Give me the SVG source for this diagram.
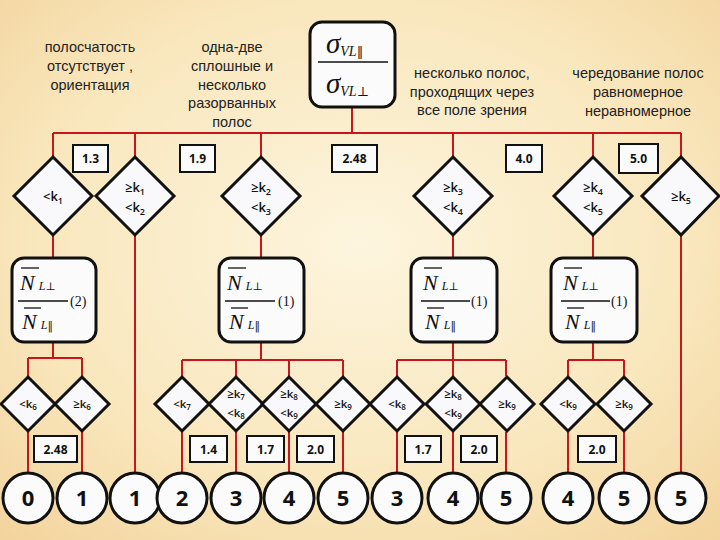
<svg xmlns="http://www.w3.org/2000/svg" width="720" height="540" viewBox="0 0 720 540">
<defs>
<radialGradient id="bg" cx="0.5" cy="0.45" r="0.75">
<stop offset="0" stop-color="#fdf5de"/>
<stop offset="0.6" stop-color="#f9e7bd"/>
<stop offset="1" stop-color="#f3d39c"/>
</radialGradient>
<style>
.ln{stroke:#c8161b;stroke-width:2;fill:none}
.dia{fill:#f9f9fb;stroke:#111;stroke-width:3;stroke-linejoin:miter}
.lab{fill:#fbfbfb;stroke:#111;stroke-width:2}
.rbox{fill:#fbfbfb;stroke:#111;stroke-width:3}
.cir{fill:#fbfbfb;stroke:#111;stroke-width:3}
.cap{font-family:"Liberation Sans",Arial,sans-serif;font-size:14.5px;fill:#222;text-anchor:middle}
.dt{font-family:"Open Sans","Liberation Sans",sans-serif;font-size:13px;font-weight:600;fill:#111;text-anchor:middle}
.st{font-family:"Open Sans","Liberation Sans",sans-serif;font-size:11.5px;font-weight:600;fill:#111;text-anchor:middle}
.lt{font-family:"Open Sans","Liberation Sans",sans-serif;font-size:12px;font-weight:700;fill:#111;text-anchor:middle}
.ct{font-family:"Open Sans","Liberation Sans",sans-serif;font-size:22px;font-weight:700;fill:#111;text-anchor:middle}
.m{font-family:"Liberation Serif","Times New Roman",serif;font-style:italic;fill:#111}
.mn{font-family:"Liberation Serif","Times New Roman",serif;fill:#111}
.up{font-family:"DejaVu Serif","Liberation Serif",serif;font-style:normal;fill:#111}
.bar{stroke:#111;stroke-width:1.3}
</style>
</defs>
<rect width="720" height="540" fill="url(#bg)"/>

<g id="connectors">
<path class="ln" d="M352 107V133M53 133H681M53 133V158M135 133V158M261 133V158M453 133V158M593 133V158M681 133V158"/>
<path class="ln" d="M53 235V258M135 235V473M261 235V258M453 235V258M593 235V258M681 235V473"/>
<path class="ln" d="M53 342V358M28 358H82M28 358V376M82 358V376"/>
<path class="ln" d="M261 342V360M182 360H343M182 360V376M236 360V376M289 360V376M343 360V376"/>
<path class="ln" d="M453 342V360M397 360H506M397 360V376M453 360V376M506 360V376"/>
<path class="ln" d="M593 342V360M568 360H624M568 360V376M624 360V376"/>
<path class="ln" d="M28 432V473M82 432V473M182 432V473M236 432V473M289 432V473M343 432V473M397 432V473M453 432V473M506 432V473M568 432V473M624 432V473"/>
</g>

<g id="captions">
<text class="cap" x="90" y="52">полосчатость</text>
<text class="cap" x="90" y="71">отсутствует ,</text>
<text class="cap" x="90" y="90">ориентация</text>
<text class="cap" x="232" y="52">одна-две</text>
<text class="cap" x="232" y="71">сплошные и</text>
<text class="cap" x="232" y="90">несколько</text>
<text class="cap" x="232" y="108">разорванных</text>
<text class="cap" x="232" y="127">полос</text>
<text class="cap" x="472" y="78">несколько полос,</text>
<text class="cap" x="472" y="97">проходящих через</text>
<text class="cap" x="472" y="115">все поле зрения</text>
<text class="cap" x="638" y="78">чередование полос</text>
<text class="cap" x="638" y="97">равномерное</text>
<text class="cap" x="638" y="116">неравномерное</text>
</g>

<g id="root">
<rect class="rbox" x="310" y="22" width="85" height="85" rx="12"/>
<text class="m" x="326" y="53" font-size="29">σ<tspan font-size="14" dy="3">VL</tspan><tspan class="up" font-size="13">‖</tspan></text>
<line class="bar" x1="318" y1="62" x2="388" y2="62"/>
<text class="m" x="326" y="93" font-size="29">σ<tspan font-size="14" dy="3">VL</tspan><tspan class="up" font-size="13">⊥</tspan></text>
</g>

<g id="thresholds-top">
<rect class="lab" x="73" y="145" width="35" height="27"/><text class="lt" x="90.5" y="163">1.3</text>
<rect class="lab" x="180" y="145" width="35" height="27"/><text class="lt" x="197.5" y="163">1.9</text>
<rect class="lab" x="332" y="145" width="45" height="27"/><text class="lt" x="354.5" y="163">2.48</text>
<rect class="lab" x="506" y="145" width="36" height="27"/><text class="lt" x="524" y="163">4.0</text>
<rect class="lab" x="619" y="144" width="39" height="29"/><text class="lt" x="638.5" y="163">5.0</text>
</g>

<g id="d1"><path class="dia" d="M53 157L92 196L53 235L14 196Z"/><text class="dt" x="53" y="201">&lt;k<tspan font-size="9" dy="3">1</tspan></text></g>
<g id="d2"><path class="dia" d="M135 157L174 196L135 235L96 196Z"/><text class="dt" x="135" y="192">≥k<tspan font-size="9" dy="3">1</tspan></text><text class="dt" x="135" y="212">&lt;k<tspan font-size="9" dy="3">2</tspan></text></g>
<g id="d3"><path class="dia" d="M261 157L300 196L261 235L222 196Z"/><text class="dt" x="261" y="192">≥k<tspan font-size="9" dy="3">2</tspan></text><text class="dt" x="261" y="212">&lt;k<tspan font-size="9" dy="3">3</tspan></text></g>
<g id="d4"><path class="dia" d="M453 157L492 196L453 235L414 196Z"/><text class="dt" x="453" y="192">≥k<tspan font-size="9" dy="3">3</tspan></text><text class="dt" x="453" y="212">&lt;k<tspan font-size="9" dy="3">4</tspan></text></g>
<g id="d5"><path class="dia" d="M593 157L632 196L593 235L554 196Z"/><text class="dt" x="593" y="192">≥k<tspan font-size="9" dy="3">4</tspan></text><text class="dt" x="593" y="212">&lt;k<tspan font-size="9" dy="3">5</tspan></text></g>
<g id="d6"><path class="dia" d="M681 157L719 196L681 235L642 196Z"/><text class="dt" x="681" y="201">≥k<tspan font-size="9" dy="3">5</tspan></text></g>

<g id="f1">
<rect class="rbox" x="12" y="258" width="84" height="84" rx="12"/>
<line class="bar" x1="21" y1="268" x2="39" y2="268"/>
<text class="m" x="20" y="290" font-size="22">N<tspan font-size="12" dx="4">L</tspan><tspan class="up" font-size="11">⊥</tspan></text>
<line class="bar" x1="18" y1="301" x2="68" y2="301"/>
<line class="bar" x1="24" y1="308" x2="41" y2="308"/>
<text class="m" x="22" y="329" font-size="22">N<tspan font-size="12" dx="4">L</tspan><tspan class="up" font-size="11">‖</tspan></text>
<text class="mn" x="70" y="306" font-size="14">(2)</text>
</g>
<g id="f2">
<rect class="rbox" x="219" y="258" width="85" height="84" rx="12"/>
<line class="bar" x1="228" y1="268" x2="246" y2="268"/>
<text class="m" x="227" y="290" font-size="22">N<tspan font-size="12" dx="4">L</tspan><tspan class="up" font-size="11">⊥</tspan></text>
<line class="bar" x1="225" y1="301" x2="275" y2="301"/>
<line class="bar" x1="231" y1="308" x2="248" y2="308"/>
<text class="m" x="229" y="329" font-size="22">N<tspan font-size="12" dx="4">L</tspan><tspan class="up" font-size="11">‖</tspan></text>
<text class="mn" x="278" y="306" font-size="14">(1)</text>
</g>
<g id="f3">
<rect class="rbox" x="411" y="258" width="86" height="84" rx="12"/>
<line class="bar" x1="424" y1="268" x2="442" y2="268"/>
<text class="m" x="423" y="290" font-size="22">N<tspan font-size="12" dx="4">L</tspan><tspan class="up" font-size="11">⊥</tspan></text>
<line class="bar" x1="421" y1="301" x2="470" y2="301"/>
<line class="bar" x1="427" y1="308" x2="444" y2="308"/>
<text class="m" x="425" y="329" font-size="22">N<tspan font-size="12" dx="4">L</tspan><tspan class="up" font-size="11">‖</tspan></text>
<text class="mn" x="471" y="306" font-size="14">(1)</text>
</g>
<g id="f4">
<rect class="rbox" x="551" y="258" width="86" height="84" rx="12"/>
<line class="bar" x1="564" y1="268" x2="582" y2="268"/>
<text class="m" x="563" y="290" font-size="22">N<tspan font-size="12" dx="4">L</tspan><tspan class="up" font-size="11">⊥</tspan></text>
<line class="bar" x1="561" y1="301" x2="610" y2="301"/>
<line class="bar" x1="567" y1="308" x2="584" y2="308"/>
<text class="m" x="565" y="329" font-size="22">N<tspan font-size="12" dx="4">L</tspan><tspan class="up" font-size="11">‖</tspan></text>
<text class="mn" x="611" y="306" font-size="14">(1)</text>
</g>

<g id="e1"><path class="dia" d="M28 377L55 404L28 431L1 404Z"/><text class="st" x="28" y="408">&lt;k<tspan font-size="8" dy="2">6</tspan></text></g>
<g id="e2"><path class="dia" d="M82 377L109 404L82 431L55 404Z"/><text class="st" x="82" y="408">≥k<tspan font-size="8" dy="2">6</tspan></text></g>
<g id="e3"><path class="dia" d="M182 377L209 404L182 431L155 404Z"/><text class="st" x="182" y="408">&lt;k<tspan font-size="8" dy="2">7</tspan></text></g>
<g id="e4"><path class="dia" d="M236 377L263 404L236 431L209 404Z"/><text class="st" x="236" y="398">≥k<tspan font-size="8" dy="2">7</tspan></text><text class="st" x="236" y="417">&lt;k<tspan font-size="8" dy="2">8</tspan></text></g>
<g id="e5"><path class="dia" d="M289 377L316 404L289 431L262 404Z"/><text class="st" x="289" y="398">≥k<tspan font-size="8" dy="2">8</tspan></text><text class="st" x="289" y="417">&lt;k<tspan font-size="8" dy="2">9</tspan></text></g>
<g id="e6"><path class="dia" d="M343 377L370 404L343 431L316 404Z"/><text class="st" x="343" y="408">≥k<tspan font-size="8" dy="2">9</tspan></text></g>
<g id="e7"><path class="dia" d="M397 377L424 404L397 431L370 404Z"/><text class="st" x="397" y="408">&lt;k<tspan font-size="8" dy="2">8</tspan></text></g>
<g id="e8"><path class="dia" d="M453 377L480 404L453 431L426 404Z"/><text class="st" x="453" y="398">≥k<tspan font-size="8" dy="2">8</tspan></text><text class="st" x="453" y="417">&lt;k<tspan font-size="8" dy="2">9</tspan></text></g>
<g id="e9"><path class="dia" d="M507 377L534 404L507 431L480 404Z"/><text class="st" x="507" y="408">≥k<tspan font-size="8" dy="2">9</tspan></text></g>
<g id="e10"><path class="dia" d="M568 377L595 404L568 431L541 404Z"/><text class="st" x="568" y="408">&lt;k<tspan font-size="8" dy="2">9</tspan></text></g>
<g id="e11"><path class="dia" d="M624 377L651 404L624 431L597 404Z"/><text class="st" x="624" y="408">≥k<tspan font-size="8" dy="2">9</tspan></text></g>

<g id="thresholds-bottom">
<rect class="lab" x="34" y="436" width="43" height="26"/><text class="lt" x="55.5" y="454">2.48</text>
<rect class="lab" x="190" y="436" width="37" height="26"/><text class="lt" x="208.5" y="454">1.4</text>
<rect class="lab" x="247" y="436" width="37" height="26"/><text class="lt" x="265.5" y="454">1.7</text>
<rect class="lab" x="297" y="436" width="37" height="26"/><text class="lt" x="315.5" y="454">2.0</text>
<rect class="lab" x="405" y="436" width="36" height="26"/><text class="lt" x="423" y="454">1.7</text>
<rect class="lab" x="461" y="436" width="36" height="26"/><text class="lt" x="479" y="454">2.0</text>
<rect class="lab" x="578" y="436" width="38" height="26"/><text class="lt" x="597" y="454">2.0</text>
</g>

<g id="c1"><circle class="cir" cx="28" cy="498" r="25"/><text class="ct" x="28" y="506">0</text></g>
<g id="c2"><circle class="cir" cx="82" cy="498" r="25"/><text class="ct" x="82" y="506">1</text></g>
<g id="c3"><circle class="cir" cx="135" cy="498" r="25"/><text class="ct" x="135" y="506">1</text></g>
<g id="c4"><circle class="cir" cx="182" cy="498" r="25"/><text class="ct" x="182" y="506">2</text></g>
<g id="c5"><circle class="cir" cx="236" cy="498" r="25"/><text class="ct" x="236" y="506">3</text></g>
<g id="c6"><circle class="cir" cx="289" cy="498" r="25"/><text class="ct" x="289" y="506">4</text></g>
<g id="c7"><circle class="cir" cx="343" cy="498" r="25"/><text class="ct" x="343" y="506">5</text></g>
<g id="c8"><circle class="cir" cx="397" cy="498" r="25"/><text class="ct" x="397" y="506">3</text></g>
<g id="c9"><circle class="cir" cx="453" cy="498" r="25"/><text class="ct" x="453" y="506">4</text></g>
<g id="c10"><circle class="cir" cx="506" cy="498" r="25"/><text class="ct" x="506" y="506">5</text></g>
<g id="c11"><circle class="cir" cx="568" cy="498" r="25"/><text class="ct" x="568" y="506">4</text></g>
<g id="c12"><circle class="cir" cx="624" cy="498" r="25"/><text class="ct" x="624" y="506">5</text></g>
<g id="c13"><circle class="cir" cx="681" cy="498" r="25"/><text class="ct" x="681" y="506">5</text></g>
</svg>
